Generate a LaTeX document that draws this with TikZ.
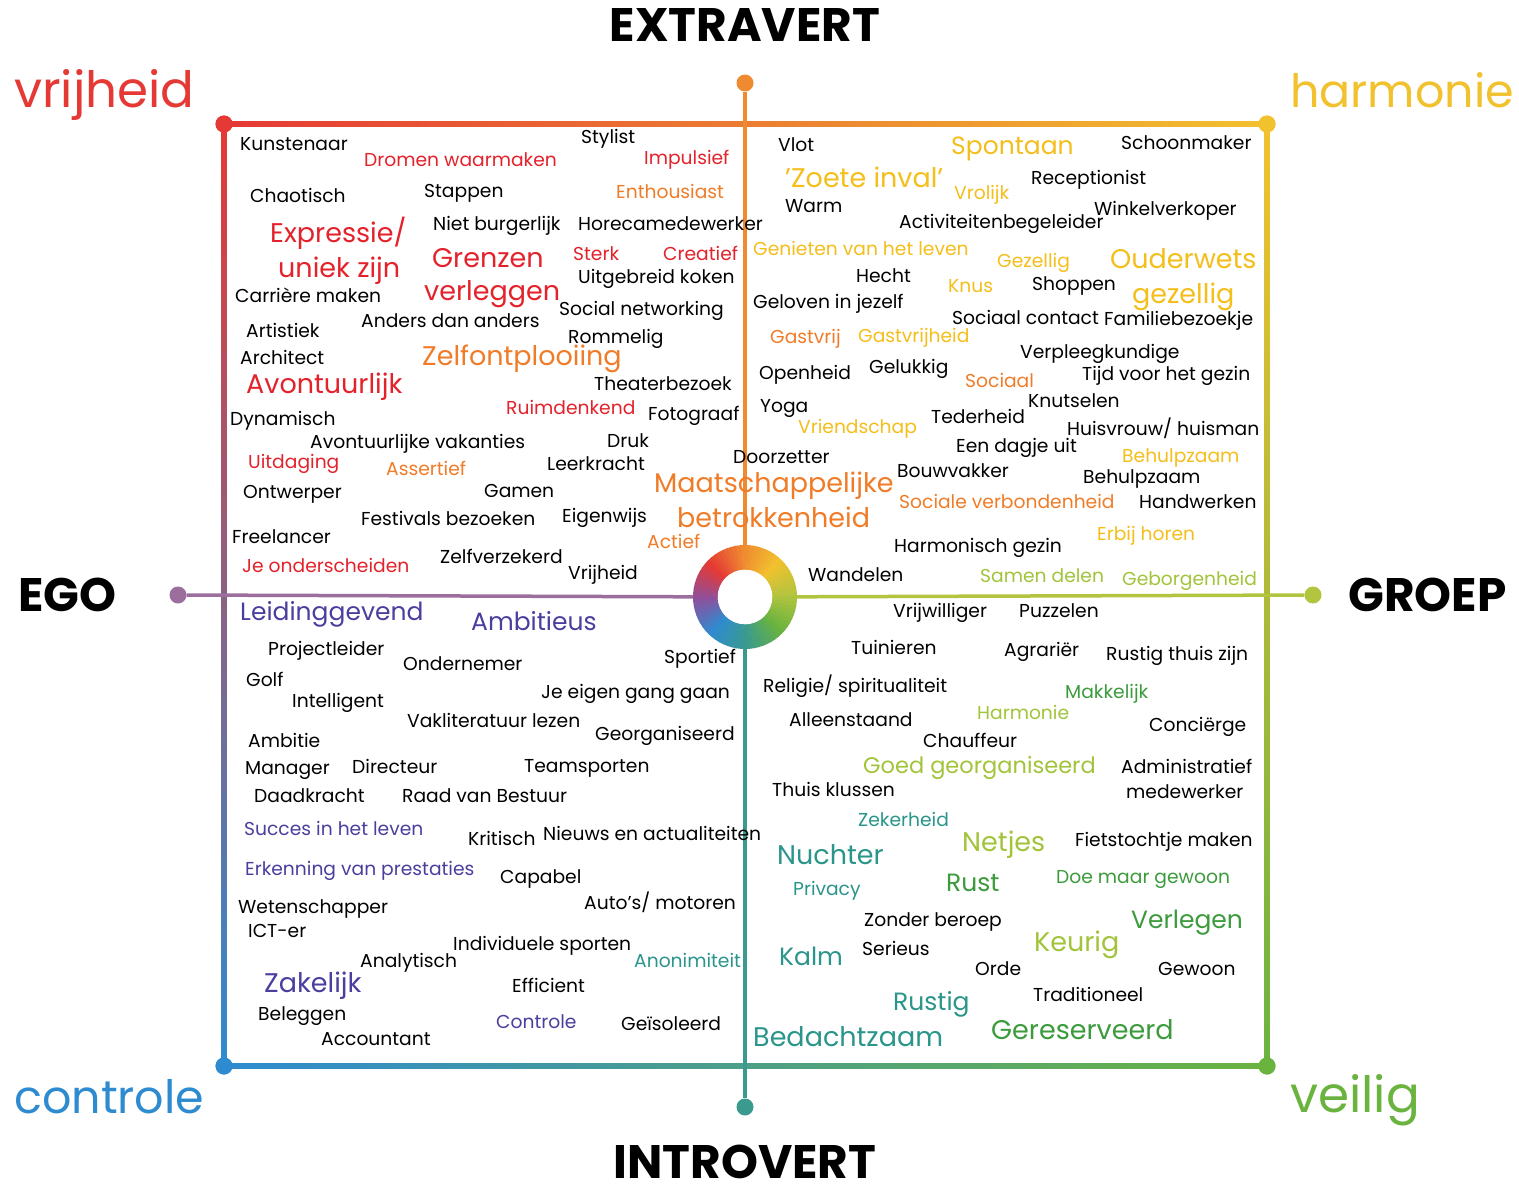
\documentclass[tikz,border=0pt]{standalone}
\usepackage{fontspec}
\setmainfont{Poppins}

\definecolor{vred}{HTML}{E3222B}
\definecolor{vorange}{HTML}{F07C28}
\definecolor{vgold}{HTML}{F4BE1B}
\definecolor{vlime}{HTML}{A2C43A}
\definecolor{vgreen}{HTML}{3C9B3C}
\definecolor{vteal}{HTML}{2A958A}
\definecolor{vpurple}{HTML}{4A3F9F}
\definecolor{cred}{HTML}{E53935}
\definecolor{corange}{HTML}{EF8A30}
\definecolor{cgold}{HTML}{F2C12E}
\definecolor{clime}{HTML}{B3C43E}
\definecolor{cgreen}{HTML}{6AB33F}
\definecolor{cteal}{HTML}{3A9A8E}
\definecolor{cblue}{HTML}{2F8BD0}
\definecolor{cmauve}{HTML}{9C6E9E}
\definecolor{cpurple}{HTML}{8E4F9C}

\tikzset{
  lbl/.style={anchor=base west,inner sep=0pt,font=\fontsize{18.7}{22}\selectfont},
  lblm/.style={lbl,font=\fontsize{25}{28}\selectfont},
  lbll/.style={lbl,font=\fontsize{27}{31}\selectfont},
  axtitle/.style={anchor=base,inner sep=0pt,font=\bfseries\fontsize{47}{50}\selectfont},
  corner/.style={anchor=base west,inner sep=0pt,font=\fontsize{50}{55}\selectfont},
  dot/.style={circle,inner sep=0pt,minimum size=17pt},
  axis/.style={line width=3.5pt},
}

\begin{document}
\begin{tikzpicture}[x=1pt,y=-1pt]
  \useasboundingbox[fill=white] (0,0) rectangle (1519,1188);
  % frame corners
  \node[dot,fill=cred]   (tl) at (224,124) {};
  \node[dot,fill=cgold]  (tr) at (1267,124) {};
  \node[dot,fill=cgreen] (br) at (1267,1066) {};
  \node[dot,fill=cblue]  (bl) at (224,1066) {};
  \shade[left color=cred,middle color=corange,right color=cgold] ([yshift=2.5pt]tl.center) rectangle ([yshift=-2.5pt]tr.center);
  \shade[top color=cred,middle color=cpurple,bottom color=cblue] ([xshift=-2.5pt]tl.center) rectangle ([xshift=2.5pt]bl.center);
  \shade[top color=cgold,middle color=clime,bottom color=cgreen] ([xshift=-2.5pt]tr.center) rectangle ([xshift=2.5pt]br.center);
  \shade[left color=cblue,middle color=cteal,right color=cgreen] ([yshift=2.5pt]bl.center) rectangle ([yshift=-2.5pt]br.center);
  \node[dot,fill=cred]   at (tl) {};
  \node[dot,fill=cgold]  at (tr) {};
  \node[dot,fill=cgreen] at (br) {};
  \node[dot,fill=cblue]  at (bl) {};

  % axes
  \coordinate (ctr) at (745,597);
  \node[dot,fill=corange] (top)   at (745,83) {};
  \node[dot,fill=cteal]   (bot)   at (745,1107) {};
  \node[dot,fill=cmauve]  (left)  at (178,595) {};
  \node[dot,fill=clime]   (right) at (1313,595) {};
  \draw[axis,corange] (top) -- (ctr);
  \draw[axis,cteal] (ctr) -- (bot);
  \draw[axis,cmauve] (left) -- (ctr);
  \draw[axis,clime] (ctr) -- (right);

  % colour ring
  \begin{scope}[shift={(ctr)},x=1pt,y=1pt]
    \foreach \a/\ca/\cb in {0/clime/cgold,45/cgold/corange,90/corange/cred,135/cred/cpurple,
                            180/cpurple/cblue,225/cblue/cteal,270/cteal/cgreen,315/cgreen/clime}
      \foreach \k in {0,...,8} {
        \pgfmathtruncatemacro\p{100-\k*100/9}
        \pgfmathsetmacro\b{\a+\k*5}
        \fill[color=\ca!\p!\cb] (\b:52) arc[start angle=\b,end angle=\b+5.6,radius=52]
          -- (\b+5.6:27) arc[start angle=\b+5.6,end angle=\b,radius=27] -- cycle;
      }
    \fill[white] (0,0) circle[radius=27.3];
  \end{scope}

  % titles
  \node[axtitle] (extra) at (745,42) {EXTRAVERT};
  \node[axtitle] (intro) at (745,1178) {INTROVERT};
  \node[axtitle,anchor=base west] (ego) at (18,611) {EGO};
  \node[axtitle,anchor=base west] (groep) at (1348,611) {GROEP};
  \node[corner,cred]   (vrij)  at (14,108) {vrijheid};
  \node[corner,cgold,font=\fontsize{46}{50}\selectfont]  (harm)  at (1290,108) {harmonie};
  \node[corner,cblue,font=\fontsize{46}{50}\selectfont]  (contr) at (14,1113) {controle};
  \node[corner,cgreen] (veil)  at (1290,1112) {veilig};

  % vrijheid / extravert
  \node[lbl] (kunst) at (240,151) {Kunstenaar};
  \node[lbl,vred] (dromen) at (364,167) {Dromen waarmaken};
  \node[lbl] (stylist) at (581,144) {Stylist};
  \node[lbl,vred] (impuls) at (644,165) {Impulsief};
  \node[lbl] (chaot) at (250,202) {Chaotisch};
  \node[lbl] (stappen) at (424,197) {Stappen};
  \node[lbl,vorange] (enthous) at (616,198) {Enthousiast};
  \node[lbll,vred] (expres) at (270,242) {Expressie/};
  \node[lbl] (nietburg) at (433,230) {Niet burgerlijk};
  \node[lbl] (horeca) at (578,230) {Horecamedewerker};
  \node[lbll,vred] (uniek) at (278,277) {uniek zijn};
  \node[lbll,vred] (grenzen) at (432,267) {Grenzen};
  \node[lbl,vred] (sterk) at (573,260) {Sterk};
  \node[lbl,vred] (creatief) at (663,260) {Creatief};
  \node[lbl] (koken) at (578,283) {Uitgebreid koken};
  \node[lbl] (carriere) at (235,302) {Carrière maken};
  \node[lbll,vred] (verleg) at (424,300) {verleggen};
  \node[lbl] (netw) at (559,315) {Social networking};
  \node[lbl] (artist) at (246,337) {Artistiek};
  \node[lbl] (anders) at (361,327) {Anders dan anders};
  \node[lbl] (rommel) at (568,343) {Rommelig};
  \node[lbl] (archit) at (240,364) {Architect};
  \node[lbll,vorange] (zelfont) at (422,365) {Zelfontplooiing};
  \node[lbll,vred] (avont) at (246,393) {Avontuurlijk};
  \node[lbl] (theater) at (594,390) {Theaterbezoek};
  \node[lbl,vred] (ruimd) at (506,414) {Ruimdenkend};
  \node[lbl] (fotogr) at (648,420) {Fotograaf};
  \node[lbl] (dynam) at (230,425) {Dynamisch};
  \node[lbl] (vakant) at (310,448) {Avontuurlijke vakanties};
  \node[lbl] (druk) at (607,447) {Druk};
  \node[lbl,vred] (uitdag) at (248,468) {Uitdaging};
  \node[lbl,vorange] (assert) at (386,475) {Assertief};
  \node[lbl] (leerkr) at (547,470) {Leerkracht};
  \node[lbl] (doorz) at (733,463) {Doorzetter};
  \node[lbll,vorange] (maatsch) at (654,492) {Maatschappelijke};
  \node[lbll,vorange] (betrok) at (677,527) {betrokkenheid};
  \node[lbl] (ontw) at (243,498) {Ontwerper};
  \node[lbl] (gamen) at (484,497) {Gamen};
  \node[lbl] (festiv) at (361,525) {Festivals bezoeken};
  \node[lbl] (eigenw) at (562,522) {Eigenwijs};
  \node[lbl] (freel) at (232,543) {Freelancer};
  \node[lbl,vorange] (actief) at (647,548) {Actief};
  \node[lbl,vred] (onders) at (242,572) {Je onderscheiden};
  \node[lbl] (zelfverz) at (440,563) {Zelfverzekerd};
  \node[lbl] (vrijh) at (568,579) {Vrijheid};

  % harmonie / groep
  \node[lbl] (vlot) at (778,152) {Vlot};
  \node[lblm,vgold] (spont) at (951,155) {Spontaan};
  \node[lbl] (schoon) at (1121,150) {Schoonmaker};
  \node[lbll,vgold] (zoete) at (785,187) {'Zoete inval'};
  \node[lbl,vgold] (vrolijk) at (954,200) {Vrolijk};
  \node[lbl] (recept) at (1031,185) {Receptionist};
  \node[lbl] (warm) at (785,212) {Warm};
  \node[lbl] (winkel) at (1094,215) {Winkelverkoper};
  \node[lbl] (activ) at (899,228) {Activiteitenbegeleider};
  \node[lbl,vgold] (geniet) at (753,255) {Genieten van het leven};
  \node[lbl,vgold] (gezel) at (997,267) {Gezellig};
  \node[lbll,vgold] (ouderw) at (1110,268) {Ouderwets};
  \node[lbl] (hecht) at (856,282) {Hecht};
  \node[lbl,vgold] (knus) at (948,292) {Knus};
  \node[lbl] (shop) at (1032,290) {Shoppen};
  \node[lbll,vgold] (gezel2) at (1132,303) {gezellig};
  \node[lbl] (gelov) at (753,308) {Geloven in jezelf};
  \node[lbl] (sociaalc) at (952,324) {Sociaal contact};
  \node[lbl] (famil) at (1104,325) {Familiebezoekje};
  \node[lbl,vorange] (gastv) at (770,343) {Gastvrij};
  \node[lbl,vgold] (gastvh) at (858,342) {Gastvrijheid};
  \node[lbl] (verpl) at (1020,358) {Verpleegkundige};
  \node[lbl] (geluk) at (869,373) {Gelukkig};
  \node[lbl] (openh) at (759,379) {Openheid};
  \node[lbl,vorange] (sociaal) at (965,387) {Sociaal};
  \node[lbl] (tijd) at (1082,380) {Tijd voor het gezin};
  \node[lbl] (yoga) at (760,412) {Yoga};
  \node[lbl] (knuts) at (1028,407) {Knutselen};
  \node[lbl,vgold] (vriend) at (798,433) {Vriendschap};
  \node[lbl] (teder) at (931,423) {Tederheid};
  \node[lbl] (huisv) at (1067,435) {Huisvrouw/ huisman};
  \node[lbl] (dagje) at (956,452) {Een dagje uit};
  \node[lbl,vgold] (behulpg) at (1122,462) {Behulpzaam};
  \node[lbl] (bouwv) at (897,477) {Bouwvakker};
  \node[lbl] (behulp) at (1083,483) {Behulpzaam};
  \node[lbl,vorange] (verbond) at (899,508) {Sociale verbondenheid};
  \node[lbl] (handw) at (1139,508) {Handwerken};
  \node[lbl,vgold] (erbij) at (1097,540) {Erbij horen};
  \node[lbl] (harmg) at (894,552) {Harmonisch gezin};
  \node[lbl] (wandel) at (808,581) {Wandelen};
  \node[lbl,vlime] (samen) at (980,582) {Samen delen};
  \node[lbl,vlime] (geborg) at (1122,585) {Geborgenheid};

  % controle / ego
  \node[lblm,vpurple] (leiding) at (240,620) {Leidinggevend};
  \node[lblm,vpurple] (ambit) at (471,630) {Ambitieus};
  \node[lbl] (projl) at (268,655) {Projectleider};
  \node[lbl] (ondern) at (403,670) {Ondernemer};
  \node[lbl] (sport) at (664,663) {Sportief};
  \node[lbl] (golf) at (246,686) {Golf};
  \node[lbl] (intell) at (292,707) {Intelligent};
  \node[lbl] (eigeng) at (541,698) {Je eigen gang gaan};
  \node[lbl] (vaklit) at (407,727) {Vakliteratuur lezen};
  \node[lbl] (georg) at (595,740) {Georganiseerd};
  \node[lbl] (ambitie) at (248,747) {Ambitie};
  \node[lbl] (manag) at (245,774) {Manager};
  \node[lbl] (direct) at (352,773) {Directeur};
  \node[lbl] (teams) at (524,772) {Teamsporten};
  \node[lbl] (daadkr) at (254,802) {Daadkracht};
  \node[lbl] (raad) at (402,802) {Raad van Bestuur};
  \node[lbl,vpurple] (succes) at (244,835) {Succes in het leven};
  \node[lbl] (kritisch) at (468,845) {Kritisch};
  \node[lbl] (nieuws) at (543,840) {Nieuws en actualiteiten};
  \node[lbl,vpurple] (erkenn) at (245,875) {Erkenning van prestaties};
  \node[lbl] (capab) at (500,883) {Capabel};
  \node[lbl] (wetens) at (238,913) {Wetenschapper};
  \node[lbl] (autos) at (584,909) {Auto's/ motoren};
  \node[lbl] (ict) at (248,937) {ICT-er};
  \node[lbl] (indiv) at (453,950) {Individuele sporten};
  \node[lbl] (analyt) at (360,967) {Analytisch};
  \node[lbl,vteal] (anonim) at (634,967) {Anonimiteit};
  \node[lbll,vpurple] (zakel) at (264,992) {Zakelijk};
  \node[lbl] (effic) at (512,992) {Efficient};
  \node[lbl] (beleg) at (258,1020) {Beleggen};
  \node[lbl,vpurple] (control) at (496,1028) {Controle};
  \node[lbl] (geisol) at (621,1030) {Geïsoleerd};
  \node[lbl] (account) at (321,1045) {Accountant};

  % veilig / introvert
  \node[lbl] (vrijw) at (893,617) {Vrijwilliger};
  \node[lbl] (puzz) at (1019,617) {Puzzelen};
  \node[lbl] (tuin) at (851,654) {Tuinieren};
  \node[lbl] (agrar) at (1004,656) {Agrariër};
  \node[lbl] (rustth) at (1106,660) {Rustig thuis zijn};
  \node[lbl] (relig) at (763,692) {Religie/ spiritualiteit};
  \node[lbl,vgreen] (makkel) at (1065,698) {Makkelijk};
  \node[lbl,vlime] (harmon) at (977,719) {Harmonie};
  \node[lbl] (alleen) at (789,726) {Alleenstaand};
  \node[lbl] (concie) at (1149,731) {Conciërge};
  \node[lbl] (chauff) at (923,747) {Chauffeur};
  \node[lbl,vlime,font=\fontsize{22.5}{26}\selectfont] (goedg) at (863,773) {Goed georganiseerd};
  \node[lbl] (admin) at (1121,773) {Administratief};
  \node[lbl] (medew) at (1126,798) {medewerker};
  \node[lbl] (klussen) at (772,796) {Thuis klussen};
  \node[lbl,vteal] (zeker) at (858,826) {Zekerheid};
  \node[lbll,vteal] (nucht) at (777,864) {Nuchter};
  \node[lbll,vlime] (netjes) at (962,851) {Netjes};
  \node[lbl] (fiets) at (1075,846) {Fietstochtje maken};
  \node[lbl,vteal] (privacy) at (793,895) {Privacy};
  \node[lblm,vgreen] (rust) at (946,891) {Rust};
  \node[lbl,vgreen] (doemaar) at (1056,883) {Doe maar gewoon};
  \node[lbl] (zonder) at (864,926) {Zonder beroep};
  \node[lblm,vgreen] (verleg2) at (1131,928) {Verlegen};
  \node[lblm,vteal] (kalm) at (779,965) {Kalm};
  \node[lbl] (serieus) at (862,955) {Serieus};
  \node[lbll,vlime] (keurig) at (1034,951) {Keurig};
  \node[lbl] (orde) at (975,975) {Orde};
  \node[lbl] (gewoon) at (1158,975) {Gewoon};
  \node[lblm,vteal] (rustig) at (893,1010) {Rustig};
  \node[lbl] (tradit) at (1033,1001) {Traditioneel};
  \node[lbll,vteal] (bedacht) at (753,1046) {Bedachtzaam};
  \node[lbll,vgreen] (gereserv) at (991,1039) {Gereserveerd};
\end{tikzpicture}
\end{document}
